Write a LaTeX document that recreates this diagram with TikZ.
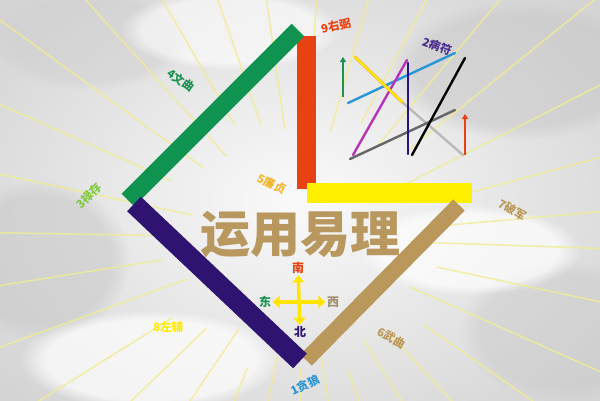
\documentclass[tikz,border=0pt]{standalone}
\usepackage{fontspec}
\newfontfamily\cjk{Noto Sans CJK SC}
\usetikzlibrary{arrows.meta,fadings}

\definecolor{barGreen}{RGB}{16,146,80}
\definecolor{barRed}{RGB}{232,66,18}
\definecolor{barYellow}{RGB}{255,240,0}
\definecolor{barTan}{RGB}{186,152,92}
\definecolor{barPurple}{RGB}{46,20,112}
\definecolor{titleTan}{RGB}{184,152,94}
\definecolor{rayYellow}{RGB}{240,236,150}
\definecolor{skyGray}{RGB}{212,212,212}
\definecolor{starGreen}{RGB}{30,146,82}
\definecolor{starLime}{RGB}{128,200,64}
\definecolor{starGold}{RGB}{240,180,40}
\definecolor{starBlue}{RGB}{40,150,216}
\definecolor{starPurple}{RGB}{74,42,140}
\definecolor{starGray}{RGB}{160,144,112}

\tikzset{
  bar/.style={line width=#1, line cap=butt},
  ray/.style={draw=rayYellow, line width=1.6pt, opacity=0.8},
  cloud/.style={path fading=circle with fuzzy edge 20 percent},
  starlabel/.style={font=\cjk\bfseries\fontsize{11.5}{11.5}\selectfont, inner sep=0pt},
  dirlabel/.style={font=\cjk\bfseries\fontsize{12}{12}\selectfont, inner sep=1.5pt},
  compass/.style={draw=barYellow!90!orange, line width=3.5pt,
    {Triangle[length=7pt,width=12pt]}-{Triangle[length=7pt,width=12pt]}},
  spear/.style={line width=2.4pt, line cap=round},
  pointer/.style={line width=2.4pt, -{Triangle[length=5pt,width=6pt]}},
}

\begin{document}
\begin{tikzpicture}[x=1pt,y=-1pt]
  \useasboundingbox (0,0) rectangle (600,400);

  % cloudy sky
  \begin{scope}
    \clip (0,0) rectangle (600,400);
    \shade[inner color=white!96!gray, outer color=skyGray] (-100,-80) rectangle (700,480);
    \fill[gray!45, cloud, opacity=0.5] (520,70) ellipse[x radius=130, y radius=70];
    \fill[gray!45, cloud, opacity=0.5] (40,260) ellipse[x radius=90, y radius=80];
    \fill[gray!45, cloud, opacity=0.4] (560,330) ellipse[x radius=100, y radius=70];
    \fill[gray!40, cloud, opacity=0.4] (90,40) ellipse[x radius=100, y radius=50];
    \fill[white, cloud, opacity=0.7] (150,360) ellipse[x radius=130, y radius=50];
    \fill[white, cloud, opacity=0.7] (470,250) ellipse[x radius=110, y radius=45];
    \fill[white, cloud, opacity=0.6] (230,30) ellipse[x radius=110, y radius=40];

    \coordinate (ctr) at (300,238);
    \foreach \a/\r in {2/110, 12/140, 24/120, 35/150, 47/130, 58/120, 70/140, 80/110,
                       90/130, 101/120, 112/140, 124/110, 136/130, 148/150, 160/120,
                       171/140, 181/130, 192/110, 204/140, 216/120, 228/110, 240/130,
                       251/120, 262/110, 274/120, 286/110, 298/130, 310/120, 321/140,
                       333/120, 345/150, 355/130}
      \draw[ray, shift={(ctr)}] (\a:\r) -- (\a:520);
  \end{scope}

  % flying star bars
  \coordinate (redTop) at (306.5,36);
  \coordinate (redBot) at (306.5,189);
  \coordinate (greenBot) at (128,200);
  \coordinate (greenTop) at (298,30);
  \coordinate (yellowL) at (307,192.5);
  \coordinate (yellowR) at (472,192.5);
  \coordinate (tanTop) at (459,205);
  \coordinate (tanBot) at (306,360);
  \coordinate (purpleTop) at (134,204);
  \coordinate (purpleBot) at (300,361);

  \draw[bar=19pt, barRed] (redTop) -- (redBot);
  \draw[bar=18pt, barGreen] (greenBot) -- (greenTop);
  \draw[bar=20pt, barYellow] (yellowL) -- (yellowR);
  \draw[bar=16pt, barTan] (tanTop) -- (tanBot);
  \draw[bar=20pt, barPurple] (purpleTop) -- (purpleBot);

  % scattered lines
  \coordinate (p1) at (355,57);  \coordinate (p2) at (402,102); \coordinate (p3) at (463,155);
  \coordinate (b1) at (348,103); \coordinate (b2) at (455,53);
  \coordinate (m1) at (353,155); \coordinate (m2) at (407,60);
  \coordinate (v1) at (408,63);  \coordinate (v2) at (408,154);
  \coordinate (k1) at (412,155); \coordinate (k2) at (465,58);
  \coordinate (d1) at (350,159); \coordinate (d2) at (455,110);
  \coordinate (ga1) at (343,97); \coordinate (ga2) at (343,57);
  \coordinate (ra1) at (465,155); \coordinate (ra2) at (465,114);

  \draw[spear, gray!55] (p2) -- (p3);
  \draw[spear, gray!80!black] (d1) -- (d2);
  \draw[spear, starBlue] (b1) -- (b2);
  \draw[spear, violet!70!magenta!80!white] (m1) -- (m2);
  \draw[spear, line width=3pt, starGold] (p1) -- (p2);
  \draw[spear, line width=1.6pt, barYellow] (p1) -- (p2);
  \draw[spear, barPurple!85!blue] (v1) -- (v2);
  \draw[spear, black] (k1) -- (k2);
  \draw[pointer, starGreen] (ga1) -- (ga2);
  \draw[pointer, barRed] (ra1) -- (ra2);

  % title
  \node[font=\cjk\bfseries\fontsize{50}{50}\selectfont, text=titleTan] (title) at (300,235) {运用易理};

  % compass
  \node[dirlabel, text=barRed] (south) at (298,268) {南};
  \node[dirlabel, text=barPurple] (north) at (300,332) {北};
  \node[dirlabel, text=starGreen] (east) at (265,302) {东};
  \node[dirlabel, text=starGray] (west) at (333,302) {西};
  \draw[compass] (south) -- (north);
  \draw[compass] (east) -- (west);

  % star names
  \node[starlabel, text=barRed, rotate=12] (s9) at (336,26) {9右弼};
  \node[starlabel, text=starPurple, rotate=-20] (s2) at (437,46) {2病符};
  \node[starlabel, text=starGreen, rotate=-35] (s4) at (181,80) {4文曲};
  \node[starlabel, text=starLime, rotate=45] (s3) at (89,196) {3禄存};
  \node[starlabel, text=starGold, rotate=-25] (s5) at (272,184) {5廉贞};
  \node[starlabel, text=barTan, rotate=-30] (s7) at (513,210) {7破军};
  \node[starlabel, text=barYellow!95!orange] (s8) at (168,327) {8左辅};
  \node[starlabel, text=barTan, rotate=-30] (s6) at (392,338) {6武曲};
  \node[starlabel, text=starBlue, rotate=25] (s1) at (305,385) {1贪狼};
\end{tikzpicture}
\end{document}
